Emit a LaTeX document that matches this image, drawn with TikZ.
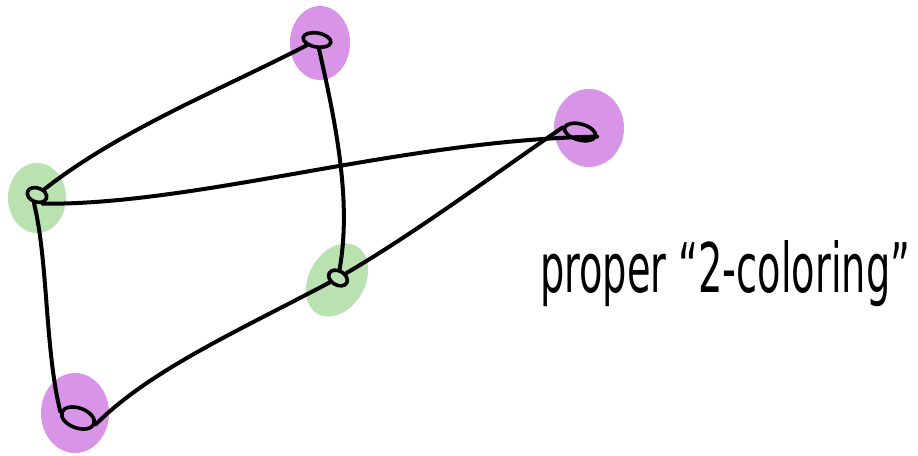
\documentclass[tikz,border=0pt]{standalone}
\usepackage{fontspec}
\setmainfont{DejaVu Sans}
\usepackage{graphicx}
\usetikzlibrary{shapes.geometric}
\definecolor{blobgreen}{RGB}{186,226,176}
\definecolor{blobpurple}{RGB}{216,148,230}
\begin{document}
\begin{tikzpicture}[x=1pt,y=-1pt,
  edge/.style={line width=4pt,line cap=round,black},
  vert/.style={ellipse,draw=black,line width=3.6pt,minimum width=20pt,minimum height=14pt,inner sep=0pt},
  gblob/.style={ellipse,fill=blobgreen,inner sep=0pt},
  pblob/.style={ellipse,fill=blobpurple,inner sep=0pt}]
\useasboundingbox (0,0) rectangle (918,455);
% blobs
\node[gblob,minimum width=58pt,minimum height=70pt] (ba) at (37,198) {};
\node[pblob,minimum width=60pt,minimum height=74pt] (bb) at (320,43) {};
\node[pblob,minimum width=70pt,minimum height=78pt] (bc) at (589,128) {};
\node[gblob,minimum width=56pt,minimum height=78pt,rotate=-30] (bd) at (337,280) {};
\node[pblob,minimum width=68pt,minimum height=80pt] (be) at (75,413) {};
% vertices
\node[vert,rotate=-20] (a) at (37,195) {};
\node[vert,rotate=-10,minimum width=28pt] (b) at (317,40) {};
\node[vert,rotate=-15,minimum width=32pt,minimum height=16pt] (c) at (580,132) {};
\node[vert,rotate=-30] (d) at (338,278) {};
\node[vert,rotate=-20,minimum width=34pt,minimum height=20pt] (e) at (78,418) {};
% edges
\draw[edge] (a) .. controls (120,130) and (220,90) .. (b);
\draw[edge] (a.south east) .. controls (200,205) and (400,140) .. (c.east);
\draw[edge] (a.south) .. controls (48,260) and (45,350) .. (e.west);
\draw[edge] (b) .. controls (335,120) and (352,200) .. (d);
\draw[edge] (d) .. controls (420,230) and (500,170) .. (c.west);
\draw[edge] (d) .. controls (240,330) and (150,370) .. (e.east);
% label
\node[anchor=base west,inner sep=0pt] (lbl) at (540,292) {\resizebox{370pt}{52pt}{proper “2-coloring”}};
\end{tikzpicture}
\end{document}
